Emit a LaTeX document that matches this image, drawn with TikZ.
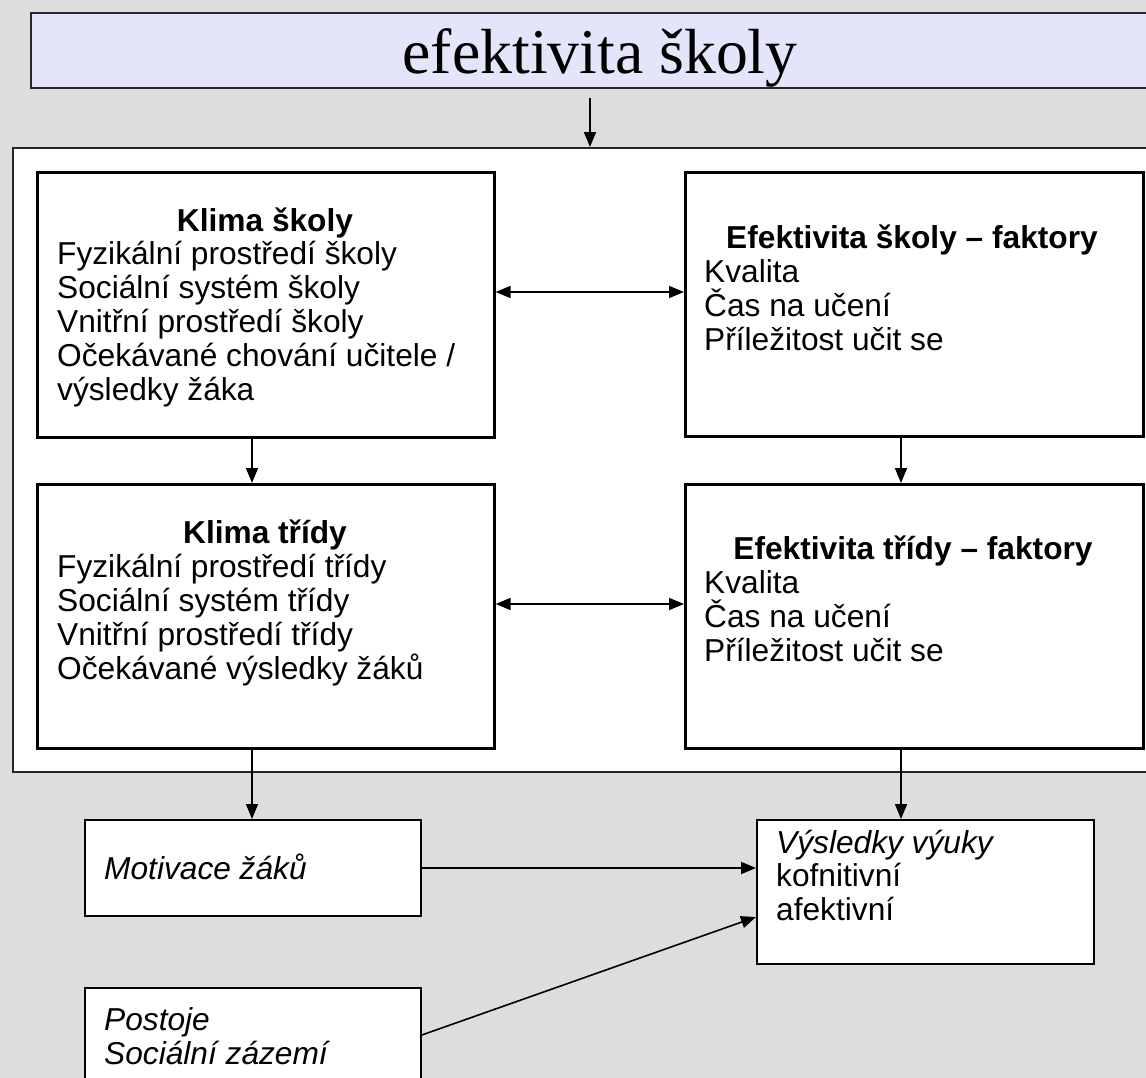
\documentclass[tikz,border=0pt]{standalone}
\usepackage{fontspec}
\setmainfont{Liberation Sans}
\newfontfamily\titlefont{Liberation Serif}
\usetikzlibrary{arrows.meta}
\definecolor{bggray}{RGB}{221,221,221}
\definecolor{lav}{RGB}{228,228,250}
\tikzset{
 box/.style={draw=black, line width=2.6bp, fill=white, inner sep=0, anchor=north west},
 sbox/.style={draw=black, line width=1.8bp, fill=white, inner sep=0, anchor=north west},
 txt/.style={anchor=base west, inner sep=0, font=\fontsize{31.8}{34}\selectfont},
 itxt/.style={anchor=base west, inner sep=0, font=\fontsize{31.8}{34}\selectfont\itshape},
 ttl/.style={anchor=base, inner sep=0, font=\fontsize{31.8}{34}\selectfont\bfseries},
 arr/.style={line width=1.6bp, -{Triangle[length=15bp,width=12bp]}},
 darr/.style={line width=1.6bp, {Triangle[length=15bp,width=12bp]}-{Triangle[length=15bp,width=12bp]}},
}
\begin{document}
\begin{tikzpicture}[x=1bp,y=-1bp]
\useasboundingbox (0,0) rectangle (1146,1078);
\clip (0,0) rectangle (1146,1078);
\fill[bggray] (0,0) rectangle (1146,1078);

% title
\node[box, line width=2bp, draw=black!85, fill=lav, minimum width=1130bp, minimum height=75bp] (title) at (30,12) {};
\node[anchor=base, inner sep=0, font=\titlefont\fontsize{64}{70}\selectfont] (titletext) at (600,73) {efektivita školy};

% main frame
\node[box, line width=2bp, draw=black!85, minimum width=1140bp, minimum height=624bp] (main) at (12,147) {};

% inner boxes
\node[box, minimum width=457bp, minimum height=265bp] (klimaS) at (36,171) {};
\node[box, minimum width=458bp, minimum height=264bp] (efS) at (684,171) {};
\node[box, minimum width=457bp, minimum height=264bp] (klimaT) at (36,483) {};
\node[box, minimum width=458bp, minimum height=264bp] (efT) at (684,483) {};

% texts klima skoly
\node[ttl] (kS0) at (265,231) {Klima školy};
\node[txt] (kS1) at (57,264) {Fyzikální prostředí školy};
\node[txt] (kS2) at (57,298) {Sociální systém školy};
\node[txt] (kS3) at (57,332) {Vnitřní prostředí školy};
\node[txt] (kS4) at (57,366) {Očekávané chování učitele /};
\node[txt] (kS5) at (57,400) {výsledky žáka};

% texts efektivita skoly
\node[ttl] (eS0) at (912,248) {Efektivita školy – faktory};
\node[txt] (eS1) at (704,282) {Kvalita};
\node[txt] (eS2) at (704,316) {Čas na učení};
\node[txt] (eS3) at (704,350) {Příležitost učit se};

% texts klima tridy
\node[ttl] (kT0) at (265,543) {Klima třídy};
\node[txt] (kT1) at (57,577) {Fyzikální prostředí třídy};
\node[txt] (kT2) at (57,611) {Sociální systém třídy};
\node[txt] (kT3) at (57,645) {Vnitřní prostředí třídy};
\node[txt] (kT4) at (57,679) {Očekávané výsledky žáků};

% texts efektivita tridy
\node[ttl] (eT0) at (913,559) {Efektivita třídy – faktory};
\node[txt] (eT1) at (704,593) {Kvalita};
\node[txt] (eT2) at (704,627) {Čas na učení};
\node[txt] (eT3) at (704,661) {Příležitost učit se};

% bottom boxes
\node[sbox, minimum width=336bp, minimum height=96bp] (motiv) at (84,819) {};
\node[sbox, minimum width=337bp, minimum height=144bp] (vysl) at (756,819) {};
\node[sbox, minimum width=336bp, minimum height=120bp] (post) at (84,987) {};

\node[itxt] (mt) at (104,879) {Motivace žáků};
\node[itxt] (v0) at (776,853) {Výsledky výuky};
\node[txt] (v1) at (776,886) {kofnitivní};
\node[txt] (v2) at (776,920) {afektivní};
\node[itxt] (p0) at (104,1030) {Postoje};
\node[itxt] (p1) at (104,1064) {Sociální zázemí};

% connectors
\coordinate (t0) at (590,98);
\draw[arr] (t0) -- (main.north -| t0);
\draw[darr] (klimaS.east |- 0,292) -- (efS.west |- 0,292);
\draw[darr] (klimaT.east |- 0,604) -- (efT.west |- 0,604);
\draw[arr] (klimaS.south -| 252,0) -- (klimaT.north -| 252,0);
\draw[arr] (efS.south -| 901,0) -- (efT.north -| 901,0);
\draw[arr] (klimaT.south -| 252,0) -- (motiv.north -| 252,0);
\draw[arr] (efT.south -| 901,0) -- (vysl.north -| 901,0);
\draw[arr] (motiv.east |- 0,868) -- (vysl.west |- 0,868);
\draw[arr] (post.east |- 0,1035) -- (vysl.west |- 0,917);
\end{tikzpicture}
\end{document}
